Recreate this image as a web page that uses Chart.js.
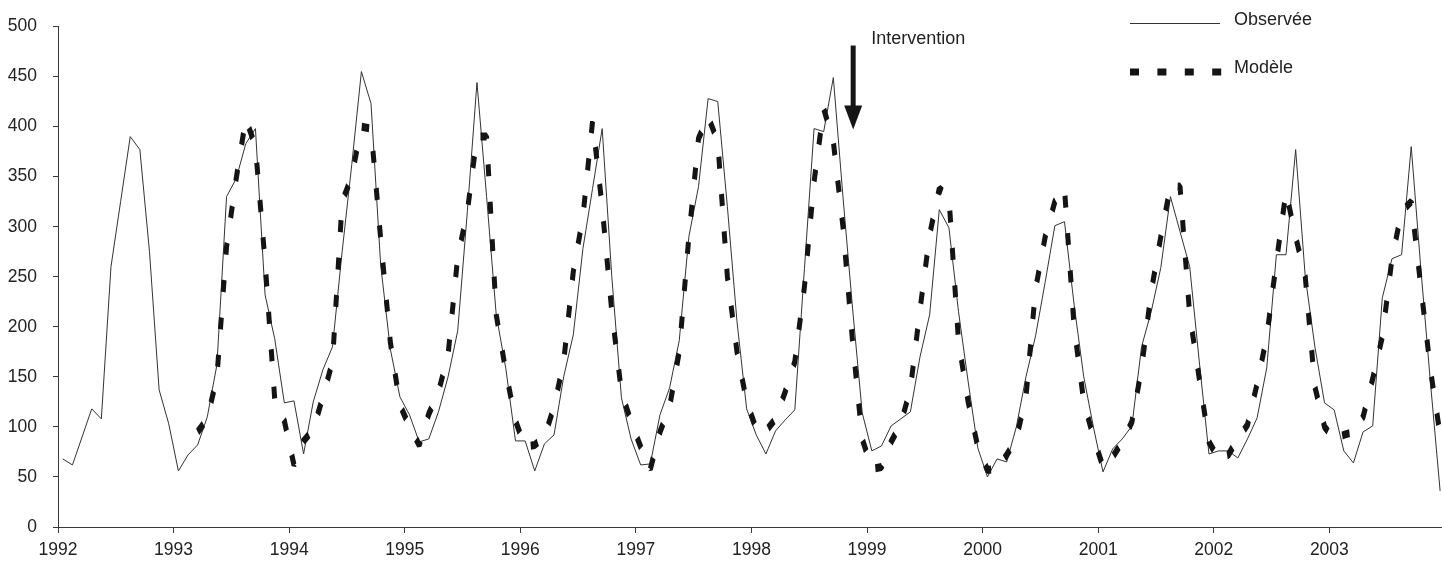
<!DOCTYPE html>
<html>
<head>
<meta charset="utf-8">
<script src="https://cdn.jsdelivr.net/npm/chart.js@4.4.1/dist/chart.umd.min.js"></script>
<style>
  html, body { margin: 0; padding: 0; background: #ffffff; }
  #wrap { width: 1442px; height: 562px; position: relative; }
  canvas { display: block; }
</style>
</head>
<body>
<div id="wrap"><canvas id="chart" width="1442" height="562"></canvas></div>
<script>
// ---------- data ----------
const yearTicks = [1992, 1993, 1994, 1995, 1996, 1997, 1998, 1999, 2000, 2001, 2002, 2003];
const yTicks = [0, 50, 100, 150, 200, 250, 300, 350, 400, 450, 500];
const seriesNames = ['Observée', 'Modèle'];

// monthly observed values, Jan 1992 .. Dec 2003
const observed = [
  68, 62, 90, 118, 108, 260, 325, 390, 377, 275, 137, 103,   // 1992
  56, 72, 82, 110, 162, 330, 348, 383, 398, 232, 188, 124,   // 1993
  126, 73, 125, 157, 180, 275, 362, 455, 423, 262, 178, 130, // 1994
  112, 85, 88, 115, 150, 196, 315, 444, 330, 212, 158, 86,   // 1995
  86, 56, 83, 92, 150, 192, 278, 338, 398, 250, 129, 88,     // 1996
  62, 63, 112, 139, 186, 290, 340, 428, 425, 320, 205, 118,  // 1997
  92, 73, 96, 107, 117, 258, 398, 395, 449, 330, 218, 114,   // 1998
  76, 81, 101, 108, 115, 170, 212, 317, 299, 215, 145, 79,   // 1999
  50, 68, 65, 100, 150, 191, 245, 301, 305, 222, 150, 100,   // 2000
  55, 78, 88, 101, 180, 215, 259, 330, 295, 260, 165, 73,    // 2001
  76, 76, 69, 88, 109, 159, 272, 272, 377, 250, 180, 124,    // 2002
  117, 76, 64, 95, 101, 229, 268, 272, 380, 258, 144, 36     // 2003
];

// monthly model values, Mar 1993 .. Dec 2003
const modelStart = { year: 1993, month: 3 };
const model = [
  95, 108, 150, 280, 348, 408, 380, 265, 128, 106,           // 1993 (Mar-Dec)
  62, 86, 97, 130, 165, 325, 350, 400, 398, 288, 185, 122,   // 1994
  100, 82, 113, 135, 172, 270, 315, 390, 390, 212, 155, 106, // 1995
  80, 82, 90, 120, 165, 255, 310, 405, 320, 215, 135, 105,   // 1996
  80, 58, 95, 120, 175, 290, 388, 410, 385, 250, 175, 125,   // 1997
  98, 96, 108, 135, 165, 240, 345, 418, 385, 300, 185, 88,   // 1998
  58, 60, 85, 103, 138, 217, 292, 338, 330, 185, 125, 80,    // 1999
  57, 58, 72, 88, 130, 238, 290, 325, 338, 200, 125, 90,     // 2000
  60, 70, 85, 105, 158, 235, 290, 341, 340, 212, 148, 85,    // 2001
  68, 72, 88, 102, 143, 190, 265, 335, 290, 250, 140, 100,   // 2002
  88, 92, 95, 110, 148, 190, 268, 315, 325, 240, 157, 92     // 2003
];

// annotation: intervention arrow (x in years, y in data units)
const intervention = { label: 'Intervention', x: 1998.88, top: 481, base: 421, tip: 397 };

// ---------- helpers: month -> decimal year (mid-month) ----------
function monthPos(year, month) { return year + (month - 0.5) / 12; }

const obsPoints = observed.map((v, i) => ({
  x: monthPos(yearTicks[0] + Math.floor(i / 12), (i % 12) + 1), y: v
}));
const modelPoints = model.map((v, i) => {
  const m0 = (modelStart.month - 1) + i;
  return { x: monthPos(modelStart.year + Math.floor(m0 / 12), (m0 % 12) + 1), y: v };
});

// ---------- style ----------
const FONT = '"Liberation Sans", Arial, Helvetica, sans-serif';
const TEXT = '#222222';
const AXIS = '#3a3a3a';
const SY = 1.6; // anisotropic stroke for the thick dashed line (as in the source graphic)

Chart.defaults.font.family = FONT;
Chart.defaults.font.size = 17.5;
Chart.defaults.color = TEXT;

// stroke the model line with a vertically stretched pen
const stretchedPen = {
  id: 'stretchedPen',
  beforeDatasetDraw(chart, args) {
    if (args.index !== 1) return;
    const ctx = chart.ctx;
    const orig = CanvasRenderingContext2D.prototype.stroke;
    ctx.stroke = function (p) {
      this.save();
      const m = this.getTransform();
      if (p) {
        const q = new Path2D();
        q.addPath(p, new DOMMatrix([1, 0, 0, 1 / SY, 0, 0]));
        this.setTransform(m.a, m.b, m.c * SY, m.d * SY, m.e, m.f);
        orig.call(this, q);
      } else {
        this.setTransform(m.a, m.b, m.c * SY, m.d * SY, m.e, m.f);
        orig.call(this);
      }
      this.restore();
    };
  },
  afterDatasetDraw(chart, args) {
    if (args.index !== 1) return;
    delete chart.ctx.stroke;
  }
};

const overlay = {
  id: 'overlay',
  afterDraw(chart) {
    const { ctx, scales: { x, y } } = chart;
    ctx.save();
    // intervention arrow
    const ax = x.getPixelForValue(intervention.x);
    const top = y.getPixelForValue(intervention.top);
    const base = y.getPixelForValue(intervention.base);
    const tip = y.getPixelForValue(intervention.tip);
    ctx.fillStyle = '#151515';
    ctx.fillRect(ax - 2.5, top, 5, base - top + 1);
    ctx.beginPath();
    ctx.moveTo(ax - 9, base);
    ctx.lineTo(ax + 9, base);
    ctx.lineTo(ax, tip);
    ctx.closePath();
    ctx.fill();
    ctx.font = '18px ' + FONT;
    ctx.fillStyle = TEXT;
    ctx.textAlign = 'left';
    ctx.textBaseline = 'middle';
    ctx.fillText(intervention.label, ax + 18, 39);

    // legend
    const lx0 = 1130, lx1 = 1220, tx = 1234;
    ctx.strokeStyle = '#333333';
    ctx.lineWidth = 1;
    ctx.beginPath();
    ctx.moveTo(lx0, 23.5);
    ctx.lineTo(lx1, 23.5);
    ctx.stroke();
    ctx.fillStyle = TEXT;
    ctx.fillText(chart.data.datasets[0].label, tx, 20);

    ctx.fillStyle = '#141414';
    for (let k = 0; k < 4; k++) {
      ctx.fillRect(lx0 + k * 27.4, 68.5, 9, 7);
    }
    ctx.fillStyle = TEXT;
    ctx.fillText(chart.data.datasets[1].label, tx, 68);
    ctx.restore();
  }
};

new Chart(document.getElementById('chart').getContext('2d'), {
  type: 'line',
  data: {
    datasets: [
      {
        label: seriesNames[0],
        data: obsPoints,
        borderColor: '#333333',
        borderWidth: 1,
        pointRadius: 0,
        tension: 0,
        fill: false,
        order: 1
      },
      {
        label: seriesNames[1],
        data: modelPoints,
        borderColor: '#141414',
        borderWidth: 5,
        borderDash: [7.5, 16],
        borderCapStyle: 'butt',
        borderJoinStyle: 'bevel',
        pointRadius: 0,
        tension: 0,
        fill: false,
        order: 0
      }
    ]
  },
  options: {
    responsive: false,
    animation: false,
    events: [],
    layout: { padding: { top: 23, right: 1, left: 0, bottom: 0 } },
    plugins: { legend: { display: false }, tooltip: { enabled: false } },
    scales: {
      x: {
        type: 'linear',
        min: yearTicks[0],
        max: 2003.966,
        afterBuildTicks: (s) => { s.ticks = yearTicks.map(v => ({ value: v })); },
        afterFit: (s) => { s.height = 35; },
        ticks: {
          callback: (v) => String(v),
          autoSkip: false,
          maxRotation: 0,
          padding: 7,
          color: TEXT,
          font: { size: 17.5 }
        },
        grid: { drawOnChartArea: false, drawTicks: true, tickLength: 6, color: AXIS, lineWidth: 1 },
        border: { display: true, color: AXIS, width: 1 }
      },
      y: {
        min: yTicks[0],
        max: yTicks[yTicks.length - 1],
        afterBuildTicks: (s) => { s.ticks = yTicks.map(v => ({ value: v })); },
        afterFit: (s) => { s.width = 58; },
        ticks: {
          callback: (v) => String(v),
          padding: 16,
          color: TEXT,
          font: { size: 17.5 }
        },
        grid: { drawOnChartArea: false, drawTicks: true, tickLength: 5, color: AXIS, lineWidth: 1 },
        border: { display: true, color: AXIS, width: 1 }
      }
    }
  },
  plugins: [stretchedPen, overlay]
});
</script>
</body>
</html>
